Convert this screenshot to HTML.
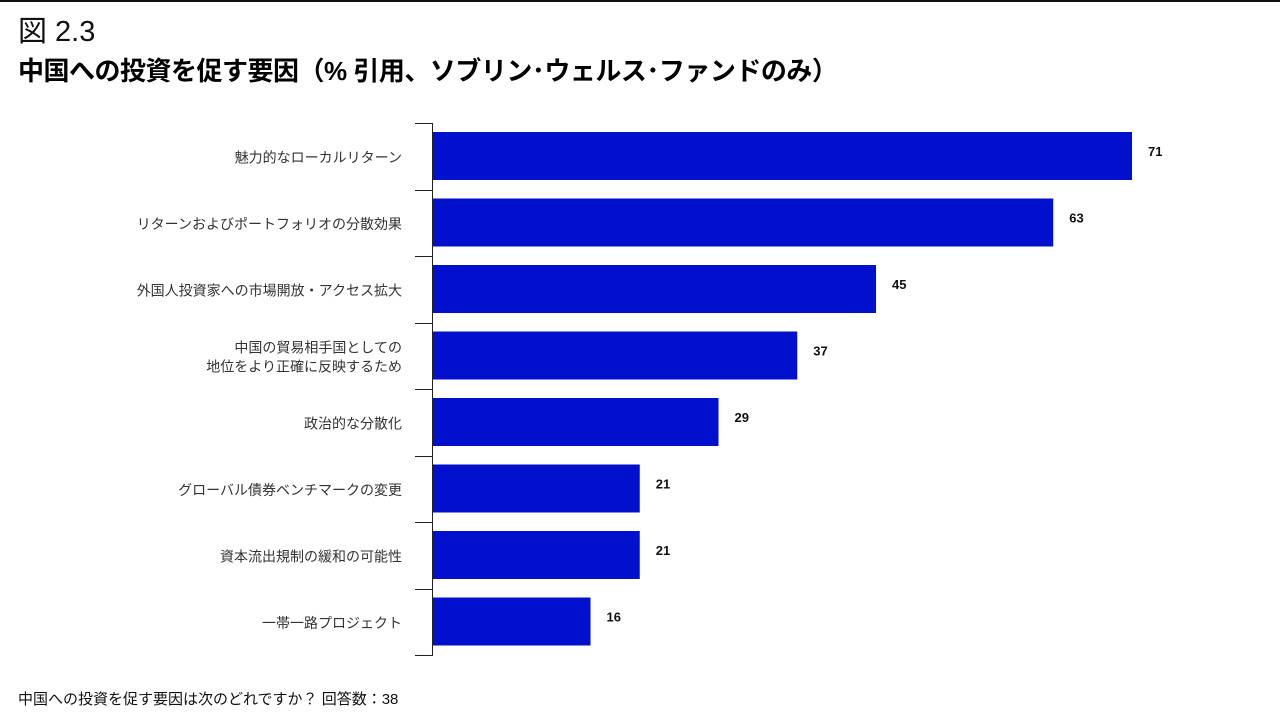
<!DOCTYPE html>
<html><head><meta charset="utf-8">
<style>
body{margin:0;width:1280px;height:720px;background:#fff;overflow:hidden;font-family:"Liberation Sans","Noto Sans CJK JP",sans-serif;position:relative}
.t1{position:absolute;left:18px;top:14px;font-size:29px;color:#111;line-height:36px}
.t2{position:absolute;left:18px;top:53px;font-size:26px;font-weight:bold;color:#000;line-height:36px;letter-spacing:-0.5px}
.foot{position:absolute;left:18px;top:688px;font-size:15px;color:#111}
</style></head><body>
<div style="position:absolute;left:0;top:0;width:1280px;height:2px;background:#111"></div>
<div class="t1">図 2.3</div>
<div class="t2">中国への投資を促す要因（% 引用、ソブリン･ウェルス･ファンドのみ）</div>
<svg id="chart" width="1280" height="720" style="position:absolute;left:0;top:0"></svg>
<div class="foot">中国への投資を促す要因は次のどれですか？ 回答数：38</div>
<script>
const categories=[["魅力的なローカルリターン"],["リターンおよびポートフォリオの分散効果"],["外国人投資家への市場開放・アクセス拡大"],["中国の貿易相手国としての","地位をより正確に反映するため"],["政治的な分散化"],["グローバル債券ベンチマークの変更"],["資本流出規制の緩和の可能性"],["一帯一路プロジェクト"]];
const values=[71,63,45,37,29,21,21,16];
const svg=document.getElementById('chart');const NS='http://www.w3.org/2000/svg';
const x0=433,scale=(1132-433)/71,top0=123,band=(655-123)/categories.length;
const xs=v=>x0+v*scale;const ys=i=>top0+i*band;
function mk(t,a){const e=document.createElementNS(NS,t);for(const k in a)e.setAttribute(k,a[k]);svg.appendChild(e);return e;}
let ax=mk('line',{x1:432.5,y1:top0,x2:432.5,y2:655,stroke:'#222','stroke-width':1});


for(let i=0;i<=categories.length;i++){const y=Math.round(ys(i))+0.5;
const tk=mk('line',{x1:415,y1:y,x2:433,y2:y,stroke:'#222','stroke-width':1});

}
categories.forEach((c,i)=>{const yc=ys(i)+band/2+1;
const r=mk('rect',{x:x0,y:ys(i)+9,width:xs(values[i])-x0,height:48,fill:'#0010cc'});


const v=mk('text',{x:xs(values[i])+16,y:ys(i)+33,'font-size':13,'font-weight':'bold',fill:'#111','font-family':'Liberation Sans, sans-serif'});v.textContent=values[i];


c.forEach((ln,j)=>{const t=mk('text',{x:402,y:yc+5+(j-(c.length-1)/2)*19,'text-anchor':'end','font-size':14,fill:'#333'});t.textContent=ln;

});
});
</script>
</body></html>
